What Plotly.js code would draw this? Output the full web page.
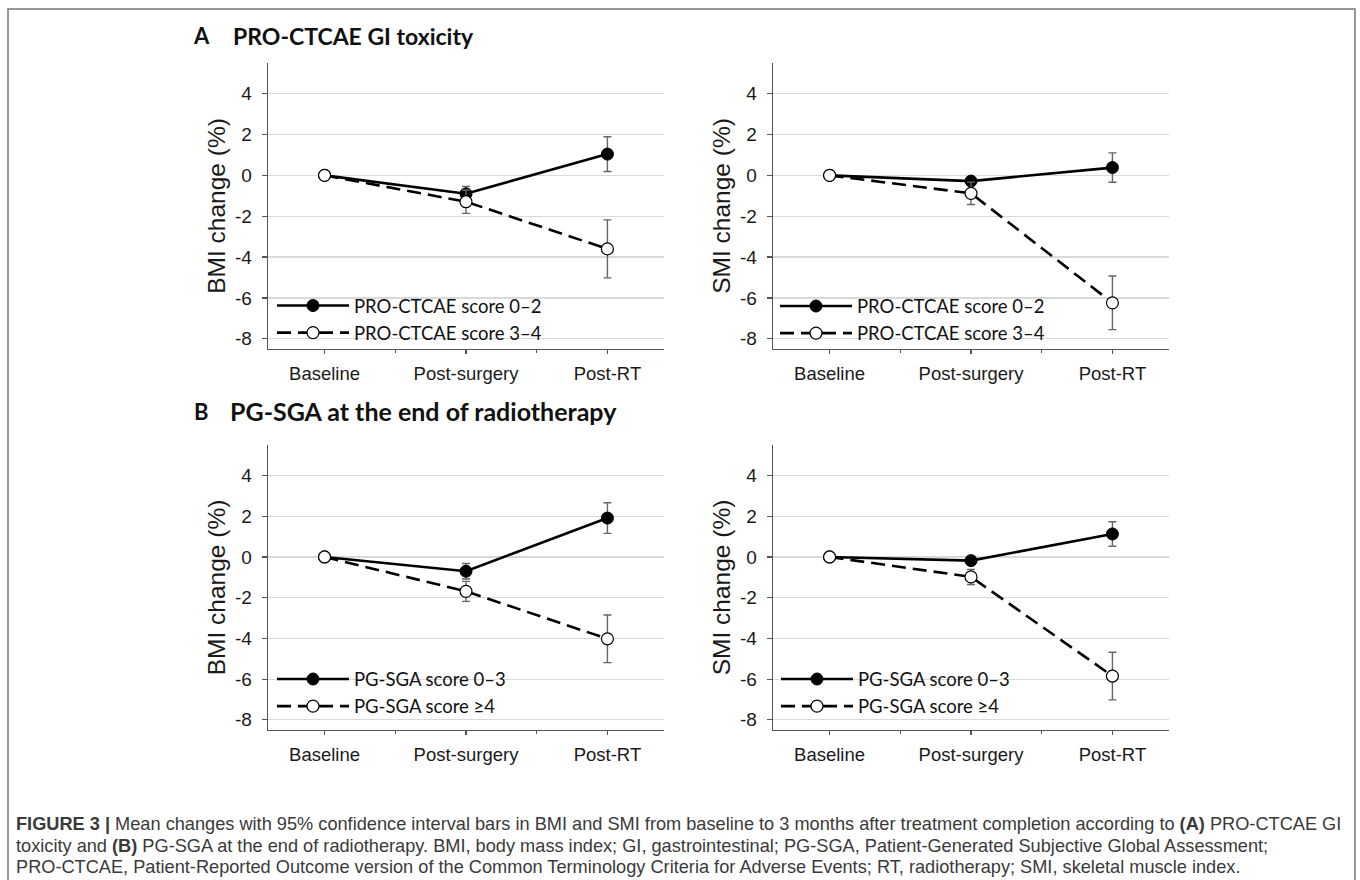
<!DOCTYPE html>
<html>
<head>
<meta charset="utf-8">
<script src="https://cdn.plot.ly/plotly-3.0.1.min.js"></script>
<style>
  html, body { margin: 0; padding: 0; background: #ffffff; }
  #chart { width: 1360px; height: 880px; }
</style>
</head>
<body>
<div id="chart"></div>
<script>
// ---------------- data ----------------
const categories = ["Baseline", "Post-surgery", "Post-RT"];
const yTickVals = [-8, -6, -4, -2, 0, 2, 4];
const yTickText = ["-8", "-6", "-4", "-2", "0", "2", "4"];

// Panel A: PRO-CTCAE GI toxicity
const namesA = ["PRO-CTCAE score 0–2", "PRO-CTCAE score 3–4"];
const bmiA_low = [0, -0.90, 1.04];
const bmiA_lowErr = [0, 0.36, 0.85];
const bmiA_high = [0, -1.29, -3.60];
const bmiA_highErr = [0, 0.57, 1.42];
const smiA_low = [0, -0.28, 0.38];
const smiA_lowErr = [0, 0.20, 0.72];
const smiA_high = [0, -0.88, -6.24];
const smiA_highErr = [0, 0.55, 1.31];

// Panel B: PG-SGA at the end of radiotherapy
const namesB = ["PG-SGA score 0–3", "PG-SGA score ≥4"];
const bmiB_low = [0, -0.70, 1.91];
const bmiB_lowErr = [0, 0.38, 0.75];
const bmiB_high = [0, -1.69, -4.02];
const bmiB_highErr = [0, 0.49, 1.17];
const smiB_low = [0, -0.18, 1.13];
const smiB_lowErr = [0, 0.20, 0.60];
const smiB_high = [0, -0.98, -5.85];
const smiB_highErr = [0, 0.37, 1.17];

const headerA = ["A", "PRO-CTCAE GI toxicity"];
const headerB = ["B", "PG-SGA at the end of radiotherapy"];
const captionLines = [
  "<b>FIGURE 3 |</b> Mean changes with 95% confidence interval bars in BMI and SMI from baseline to 3 months after treatment completion according to <b>(A)</b> PRO-CTCAE GI",
  "toxicity and <b>(B)</b> PG-SGA at the end of radiotherapy. BMI, body mass index; GI, gastrointestinal; PG-SGA, Patient-Generated Subjective Global Assessment;",
  "PRO-CTCAE, Patient-Reported Outcome version of the Common Terminology Criteria for Adverse Events; RT, radiotherapy; SMI, skeletal muscle index."
];

// ---------------- helpers ----------------
const W = 1360, H = 880;
const px = v => v / W;
const py = v => 1 - v / H;
const xIdx = categories.map((c, i) => i);
const legendFont = { family: "Lato, 'Open Sans', sans-serif", size: 18.5, color: "#111" };

function seriesPair(xa, ya, legendId, names, low, lowErr, high, highErr) {
  const errStyle = { type: "data", symmetric: true, color: "#666", thickness: 1.4, width: 4 };
  return [
    {
      x: xIdx, y: low, name: names[0], xaxis: xa, yaxis: ya, legend: legendId,
      mode: "lines+markers", type: "scatter",
      line: { color: "#000", width: 2.6 },
      marker: { symbol: "circle", size: 12, color: "#000", line: { color: "#000", width: 1 } },
      error_y: Object.assign({ array: lowErr }, errStyle),
      hoverinfo: "skip"
    },
    {
      x: xIdx, y: high, name: names[1], xaxis: xa, yaxis: ya, legend: legendId,
      mode: "lines+markers", type: "scatter",
      line: { color: "#000", width: 2.6, dash: "14px,7px" },
      marker: { symbol: "circle", size: 12, color: "#fff", line: { color: "#000", width: 1.2 } },
      error_y: Object.assign({ array: highErr }, errStyle),
      hoverinfo: "skip"
    }
  ];
}

const data = [].concat(
  seriesPair("x", "y", "legend", namesA, bmiA_low, bmiA_lowErr, bmiA_high, bmiA_highErr),
  seriesPair("x2", "y2", "legend2", namesA, smiA_low, smiA_lowErr, smiA_high, smiA_highErr),
  seriesPair("x3", "y3", "legend3", namesB, bmiB_low, bmiB_lowErr, bmiB_high, bmiB_highErr),
  seriesPair("x4", "y4", "legend4", namesB, smiB_low, smiB_lowErr, smiB_high, smiB_highErr)
);

const tickFontX = { family: "'Liberation Sans', Arial, sans-serif", size: 18.5, color: "#1a1a1a" };
const tickFontY = { family: "'Liberation Sans', Arial, sans-serif", size: 19, color: "#1a1a1a" };

function xAxis(domain, anchor) {
  return {
    domain: domain, anchor: anchor, range: [-0.4, 2.4],
    tickmode: "array", tickvals: xIdx, ticktext: categories,
    showgrid: false, zeroline: false, showline: true, linecolor: "#555", linewidth: 1.4,
    ticks: "outside", ticklen: 4, tickcolor: "#555", tickwidth: 1.2, ticklabelstandoff: 3,
    minor: { tickmode: "linear", tick0: 0.5, dtick: 1, ticks: "outside", ticklen: 3, tickcolor: "#555", showgrid: false },
    tickfont: tickFontX, fixedrange: true
  };
}
function yAxis(domain, anchor, title) {
  return {
    domain: domain, anchor: anchor, range: [-8.5, 5.5],
    tickmode: "array", tickvals: yTickVals, ticktext: yTickText,
    showgrid: true, gridcolor: "#d9d9d9", gridwidth: 1.2,
    zeroline: false, showline: true, linecolor: "#555", linewidth: 1.4,
    ticks: "outside", ticklen: 5, tickcolor: "#555", tickwidth: 1.2, ticklabelstandoff: 6,
    tickfont: tickFontY, fixedrange: true,
    title: { text: title, font: { family: "'Liberation Sans', Arial, sans-serif", size: 24.5, color: "#1a1a1a" }, standoff: 2 }
  };
}

const dxL = [px(268), px(664)], dxR = [px(773), px(1169)];
const dyA = [py(349), py(63)], dyB = [py(730), py(445)];

function legendAt(xPix, yPix) {
  return {
    x: px(xPix), y: py(yPix), xanchor: "left", yanchor: "middle",
    bgcolor: "rgba(0,0,0,0)", borderwidth: 0, font: legendFont,
    itemwidth: 72, tracegroupgap: 0, itemclick: false, itemdoubleclick: false
  };
}

const headerFontA = { family: "Lato, 'Open Sans', sans-serif", size: 23, color: "#111" };
const headerFontB = { family: "Lato, 'Open Sans', sans-serif", size: 25, color: "#111" };
const letterFont = { family: "Lato, 'Open Sans', sans-serif", size: 22, color: "#111" };
const annotations = [
  { text: "<b>" + headerA[0] + "</b>", x: px(201), y: py(36), xref: "paper", yref: "paper", xanchor: "center", yanchor: "middle", showarrow: false, font: letterFont },
  { text: "<b>" + headerA[1] + "</b>", x: px(231), y: py(36), xref: "paper", yref: "paper", xanchor: "left", yanchor: "middle", showarrow: false, font: headerFontA },
  { text: "<b>" + headerB[0] + "</b>", x: px(201), y: py(411), xref: "paper", yref: "paper", xanchor: "center", yanchor: "middle", showarrow: false, font: letterFont },
  { text: "<b>" + headerB[1] + "</b>", x: px(228), y: py(411), xref: "paper", yref: "paper", xanchor: "left", yanchor: "middle", showarrow: false, font: headerFontB }
];
const capY = [824, 846, 867];
captionLines.forEach((t, i) => {
  annotations.push({
    text: t, x: px(14), y: py(capY[i]), xref: "paper", yref: "paper", xanchor: "left", yanchor: "middle",
    showarrow: false, font: { family: "'Liberation Sans', Arial, sans-serif", size: 18.2, color: "#3a3a3a" }
  });
});

const layout = {
  width: W, height: H,
  margin: { l: 0, r: 0, t: 0, b: 0 },
  paper_bgcolor: "#fff", plot_bgcolor: "rgba(0,0,0,0)",
  showlegend: true,
  xaxis: xAxis(dxL, "y"), yaxis: yAxis(dyA, "x", "BMI change (%)"),
  xaxis2: xAxis(dxR, "y2"), yaxis2: yAxis(dyA, "x2", "SMI change (%)"),
  xaxis3: xAxis(dxL, "y3"), yaxis3: yAxis(dyB, "x3", "BMI change (%)"),
  xaxis4: xAxis(dxR, "y4"), yaxis4: yAxis(dyB, "x4", "SMI change (%)"),
  legend: legendAt(272, 319.5),
  legend2: legendAt(775, 320),
  legend3: legendAt(272, 693),
  legend4: legendAt(776, 693),
  annotations: annotations,
  shapes: [
    { type: "rect", xref: "paper", yref: "paper", x0: px(8), x1: px(1355), y0: py(886), y1: py(9),
      line: { color: "#777", width: 1.5 }, fillcolor: "rgba(0,0,0,0)", layer: "below" }
  ]
};

Plotly.newPlot("chart", data, layout, { staticPlot: true, displayModeBar: false });
</script>
</body>
</html>
